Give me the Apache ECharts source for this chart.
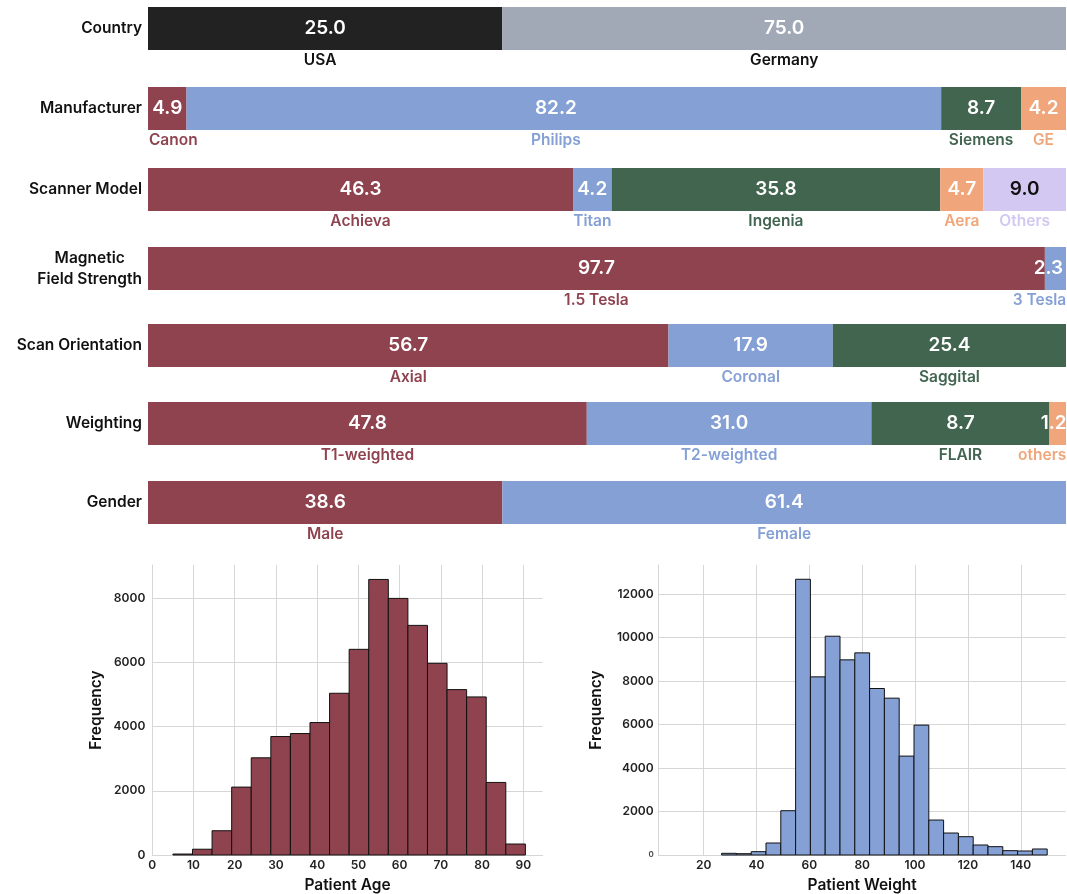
<!DOCTYPE html>
<html>
<head>
<meta charset="utf-8">
<script src="https://cdn.jsdelivr.net/npm/echarts@6/dist/echarts.min.js"></script>
<style>
  html, body { margin: 0; padding: 0; background: #ffffff; }
  #chart { width: 1067px; height: 894px; }
</style>
</head>
<body>
<div id="chart"></div>
<script>
// ---------------- DATA ----------------
const rowTitles = ['Country', 'Manufacturer', 'Scanner Model', 'Magnetic\nField Strength', 'Scan Orientation', 'Weighting', 'Gender'];

const countryNames = ['USA', 'Germany'];
const countryShares = [38.6, 61.4];          // drawn segment widths (%)
const countryLabels = ['25.0', '75.0'];       // printed values

const manufacturerNames = ['Canon', 'Philips', 'Siemens', 'GE'];
const manufacturerShares = [4.2, 82.2, 8.7, 4.9];
const manufacturerLabels = ['4.9', '82.2', '8.7', '4.2'];

const scannerNames = ['Achieva', 'Titan', 'Ingenia', 'Aera', 'Others'];
const scannerShares = [46.3, 4.2, 35.8, 4.7, 9.0];
const scannerLabels = ['46.3', '4.2', '35.8', '4.7', '9.0'];

const fieldNames = ['1.5 Tesla', '3 Tesla'];
const fieldShares = [97.7, 2.3];
const fieldLabels = ['97.7', '2.3'];

const orientationNames = ['Axial', 'Coronal', 'Saggital'];
const orientationShares = [56.7, 17.9, 25.4];
const orientationLabels = ['56.7', '17.9', '25.4'];

const weightingNames = ['T1-weighted', 'T2-weighted', 'FLAIR', 'others'];
const weightingShares = [47.8, 31.0, 19.4, 1.8];
const weightingLabels = ['47.8', '31.0', '8.7', '1.2'];

const genderNames = ['Male', 'Female'];
const genderShares = [38.6, 61.4];
const genderLabels = ['38.6', '61.4'];

// Histogram: patient age
const ageBinStart = 5;
const ageBinWidth = 4.75;
const ageCounts = [30, 180, 756, 2114, 3026, 3689, 3782, 4124, 5036, 6404, 8580, 7990, 7150, 5969, 5150, 4922, 2259, 342];
const ageTicksX = [0, 10, 20, 30, 40, 50, 60, 70, 80, 90];
const ageTicksY = [0, 2000, 4000, 6000, 8000];

// Histogram: patient weight
const weightBinStart = 10;
const weightBinWidth = 5.6;
const weightCounts = [0, 0, 0, 77, 61, 153, 551, 2036, 12674, 8189, 10057, 8970, 9291, 7653, 7209, 4546, 5970, 1607, 1010, 842, 459, 383, 199, 184, 276];
const weightTicksX = [20, 40, 60, 80, 100, 120, 140];
const weightTicksY = [0, 2000, 4000, 6000, 8000, 10000, 12000];

// ---------------- STYLE ----------------
const FONT = 'Inter';
const palette = ['#8F434F', '#85A0D5', '#426550', '#F0A67A', '#D3C8F1'];
const countryPalette = ['#222222', '#A1A9B7'];
const rowTops = [7, 87, 168, 247, 324, 402, 481];
const barH = 43;
const plotLeft = 148, plotRight = 1;

// label tweaks: [dx of whole label, extra dx of the name line]
const labelTweaks = {
  'USA': [0, -5],
  'Canon': [0, 6],
  'Philips': [-8, 0],
  '3 Tesla': [-7, -9],
  'others': [-4, -11.5]
};

const rows = [
  { names: countryNames, shares: countryShares, labels: countryLabels, colors: countryPalette, nameColors: ['#111111', '#111111'] },
  { names: manufacturerNames, shares: manufacturerShares, labels: manufacturerLabels },
  { names: scannerNames, shares: scannerShares, labels: scannerLabels },
  { names: fieldNames, shares: fieldShares, labels: fieldLabels },
  { names: orientationNames, shares: orientationShares, labels: orientationLabels },
  { names: weightingNames, shares: weightingShares, labels: weightingLabels },
  { names: genderNames, shares: genderShares, labels: genderLabels }
];

const grids = [], xAxes = [], yAxes = [], series = [];

rows.forEach((row, i) => {
  grids.push({ left: plotLeft, right: plotRight, top: rowTops[i], height: barH, containLabel: false });
  xAxes.push({ gridIndex: i, type: 'value', min: 0, max: 100, show: false });
  yAxes.push({
    gridIndex: i, type: 'category', data: [rowTitles[i]],
    axisLine: { show: false }, axisTick: { show: false }, splitLine: { show: false },
    axisLabel: {
      margin: 6, color: '#111111', fontFamily: FONT, fontWeight: 600, fontSize: 15,
      formatter: (v) => v.split('\n').map(s => '{a|' + s + '}').join('\n'),
      rich: { a: { fontFamily: FONT, fontWeight: 600, fontSize: 15.5, color: '#111111', align: 'center', lineHeight: 21 } }
    }
  });
  row.names.forEach((nm, j) => {
    const color = row.colors ? row.colors[j] : palette[j];
    const nameColor = row.nameColors ? row.nameColors[j] : color;
    const valueColor = (color === '#D3C8F1') ? '#111111' : '#ffffff';
    const tw = labelTweaks[nm] || [0, 0];
    const extra = tw[1];
    const pad = extra >= 0 ? [0, 0, 0, 2 * extra] : [0, -2 * extra, 0, 0];
    series.push({
      type: 'bar', xAxisIndex: i, yAxisIndex: i, stack: 'row' + i,
      barWidth: barH, silent: true, animation: false,
      data: [{
        value: row.shares[j],
        itemStyle: { color: color },
        label: {
          show: true, position: 'inside', offset: [tw[0], 16],
          formatter: '{v|' + row.labels[j] + '}\n{n|' + nm + '}',
          rich: {
            v: { fontFamily: FONT, fontWeight: 600, fontSize: 19, color: valueColor, lineHeight: 32, align: 'center' },
            n: { fontFamily: FONT, fontWeight: 600, fontSize: 15.5, color: nameColor, lineHeight: 32, align: 'center', padding: pad }
          }
        }
      }]
    });
  });
});

// ---------------- HISTOGRAMS ----------------
function histData(start, width, counts) {
  return counts.map((c, k) => [start + k * width, start + (k + 1) * width, c]);
}
function histRender(fill) {
  return function (params, api) {
    const c = api.value(2);
    if (!c) return null;
    const p0 = api.coord([api.value(0), c]);
    const p1 = api.coord([api.value(1), 0]);
    return {
      type: 'rect',
      shape: { x: p0[0], y: p0[1], width: p1[0] - p0[0], height: p1[1] - p0[1] },
      style: { fill: fill, stroke: '#111111', lineWidth: 1 }
    };
  };
}
const gridLineColor = '#d6d6d6';
const tickLabelStyle = { color: '#222222', fontFamily: FONT, fontWeight: 600, fontSize: 12 };
const axisNameStyle = { color: '#111111', fontFamily: FONT, fontWeight: 600, fontSize: 15.5 };

// left: age
grids.push({ left: 152.3, top: 565, width: 390.4, height: 290.3 });
xAxes.push({
  gridIndex: 7, type: 'value', min: 0, max: 94.7,
  axisLine: { show: true, lineStyle: { color: gridLineColor } },
  axisTick: { show: false, customValues: ageTicksX },
  axisLabel: Object.assign({ customValues: ageTicksX, margin: 4, formatter: (v) => String(v) }, tickLabelStyle),
  splitLine: { show: true, lineStyle: { color: gridLineColor } },
  name: 'Patient Age', nameLocation: 'middle', nameGap: 22, nameTextStyle: axisNameStyle
});
yAxes.push({
  gridIndex: 7, type: 'value', min: 0, max: 9030,
  axisLine: { show: true, lineStyle: { color: gridLineColor } },
  axisTick: { show: false, customValues: ageTicksY },
  axisLabel: Object.assign({ customValues: ageTicksY, margin: 7, formatter: (v) => String(v) }, tickLabelStyle),
  splitLine: { show: true, lineStyle: { color: gridLineColor } },
  name: 'Frequency', nameLocation: 'middle', nameGap: 48, nameTextStyle: axisNameStyle
});
series.push({
  type: 'custom', xAxisIndex: 7, yAxisIndex: 7, silent: true, animation: false,
  renderItem: histRender('#8F434F'), encode: { x: [0, 1], y: 2 },
  data: histData(ageBinStart, ageBinWidth, ageCounts)
});

// right: weight
grids.push({ left: 658.7, top: 565, width: 407, height: 290.3 });
xAxes.push({
  gridIndex: 8, type: 'value', min: 3, max: 157,
  axisLine: { show: true, lineStyle: { color: gridLineColor } },
  axisTick: { show: false, customValues: weightTicksX },
  axisLabel: Object.assign({ customValues: weightTicksX, margin: 4, formatter: (v) => String(v) }, tickLabelStyle),
  splitLine: { show: true, lineStyle: { color: gridLineColor } },
  name: 'Patient Weight', nameLocation: 'middle', nameGap: 22, nameTextStyle: axisNameStyle
});
yAxes.push({
  gridIndex: 8, type: 'value', min: 0, max: 13330,
  axisLine: { show: true, lineStyle: { color: gridLineColor } },
  axisTick: { show: false, customValues: weightTicksY },
  axisLabel: Object.assign({
    customValues: weightTicksY, margin: 5,
    formatter: (v) => v === 0 ? '{s|0}' : String(v),
    rich: { s: { fontFamily: FONT, fontSize: 8, color: '#444444' } }
  }, tickLabelStyle),
  splitLine: { show: true, lineStyle: { color: gridLineColor } },
  name: 'Frequency', nameLocation: 'middle', nameGap: 54, nameTextStyle: axisNameStyle
});
series.push({
  type: 'custom', xAxisIndex: 8, yAxisIndex: 8, silent: true, animation: false,
  renderItem: histRender('#85A0D5'), encode: { x: [0, 1], y: 2 },
  data: histData(weightBinStart, weightBinWidth, weightCounts)
});

const chart = echarts.init(document.getElementById('chart'), null, { renderer: 'canvas' });
chart.setOption({
  animation: false,
  backgroundColor: '#ffffff',
  textStyle: { fontFamily: FONT },
  grid: grids, xAxis: xAxes, yAxis: yAxes, series: series
});
</script>
</body>
</html>
